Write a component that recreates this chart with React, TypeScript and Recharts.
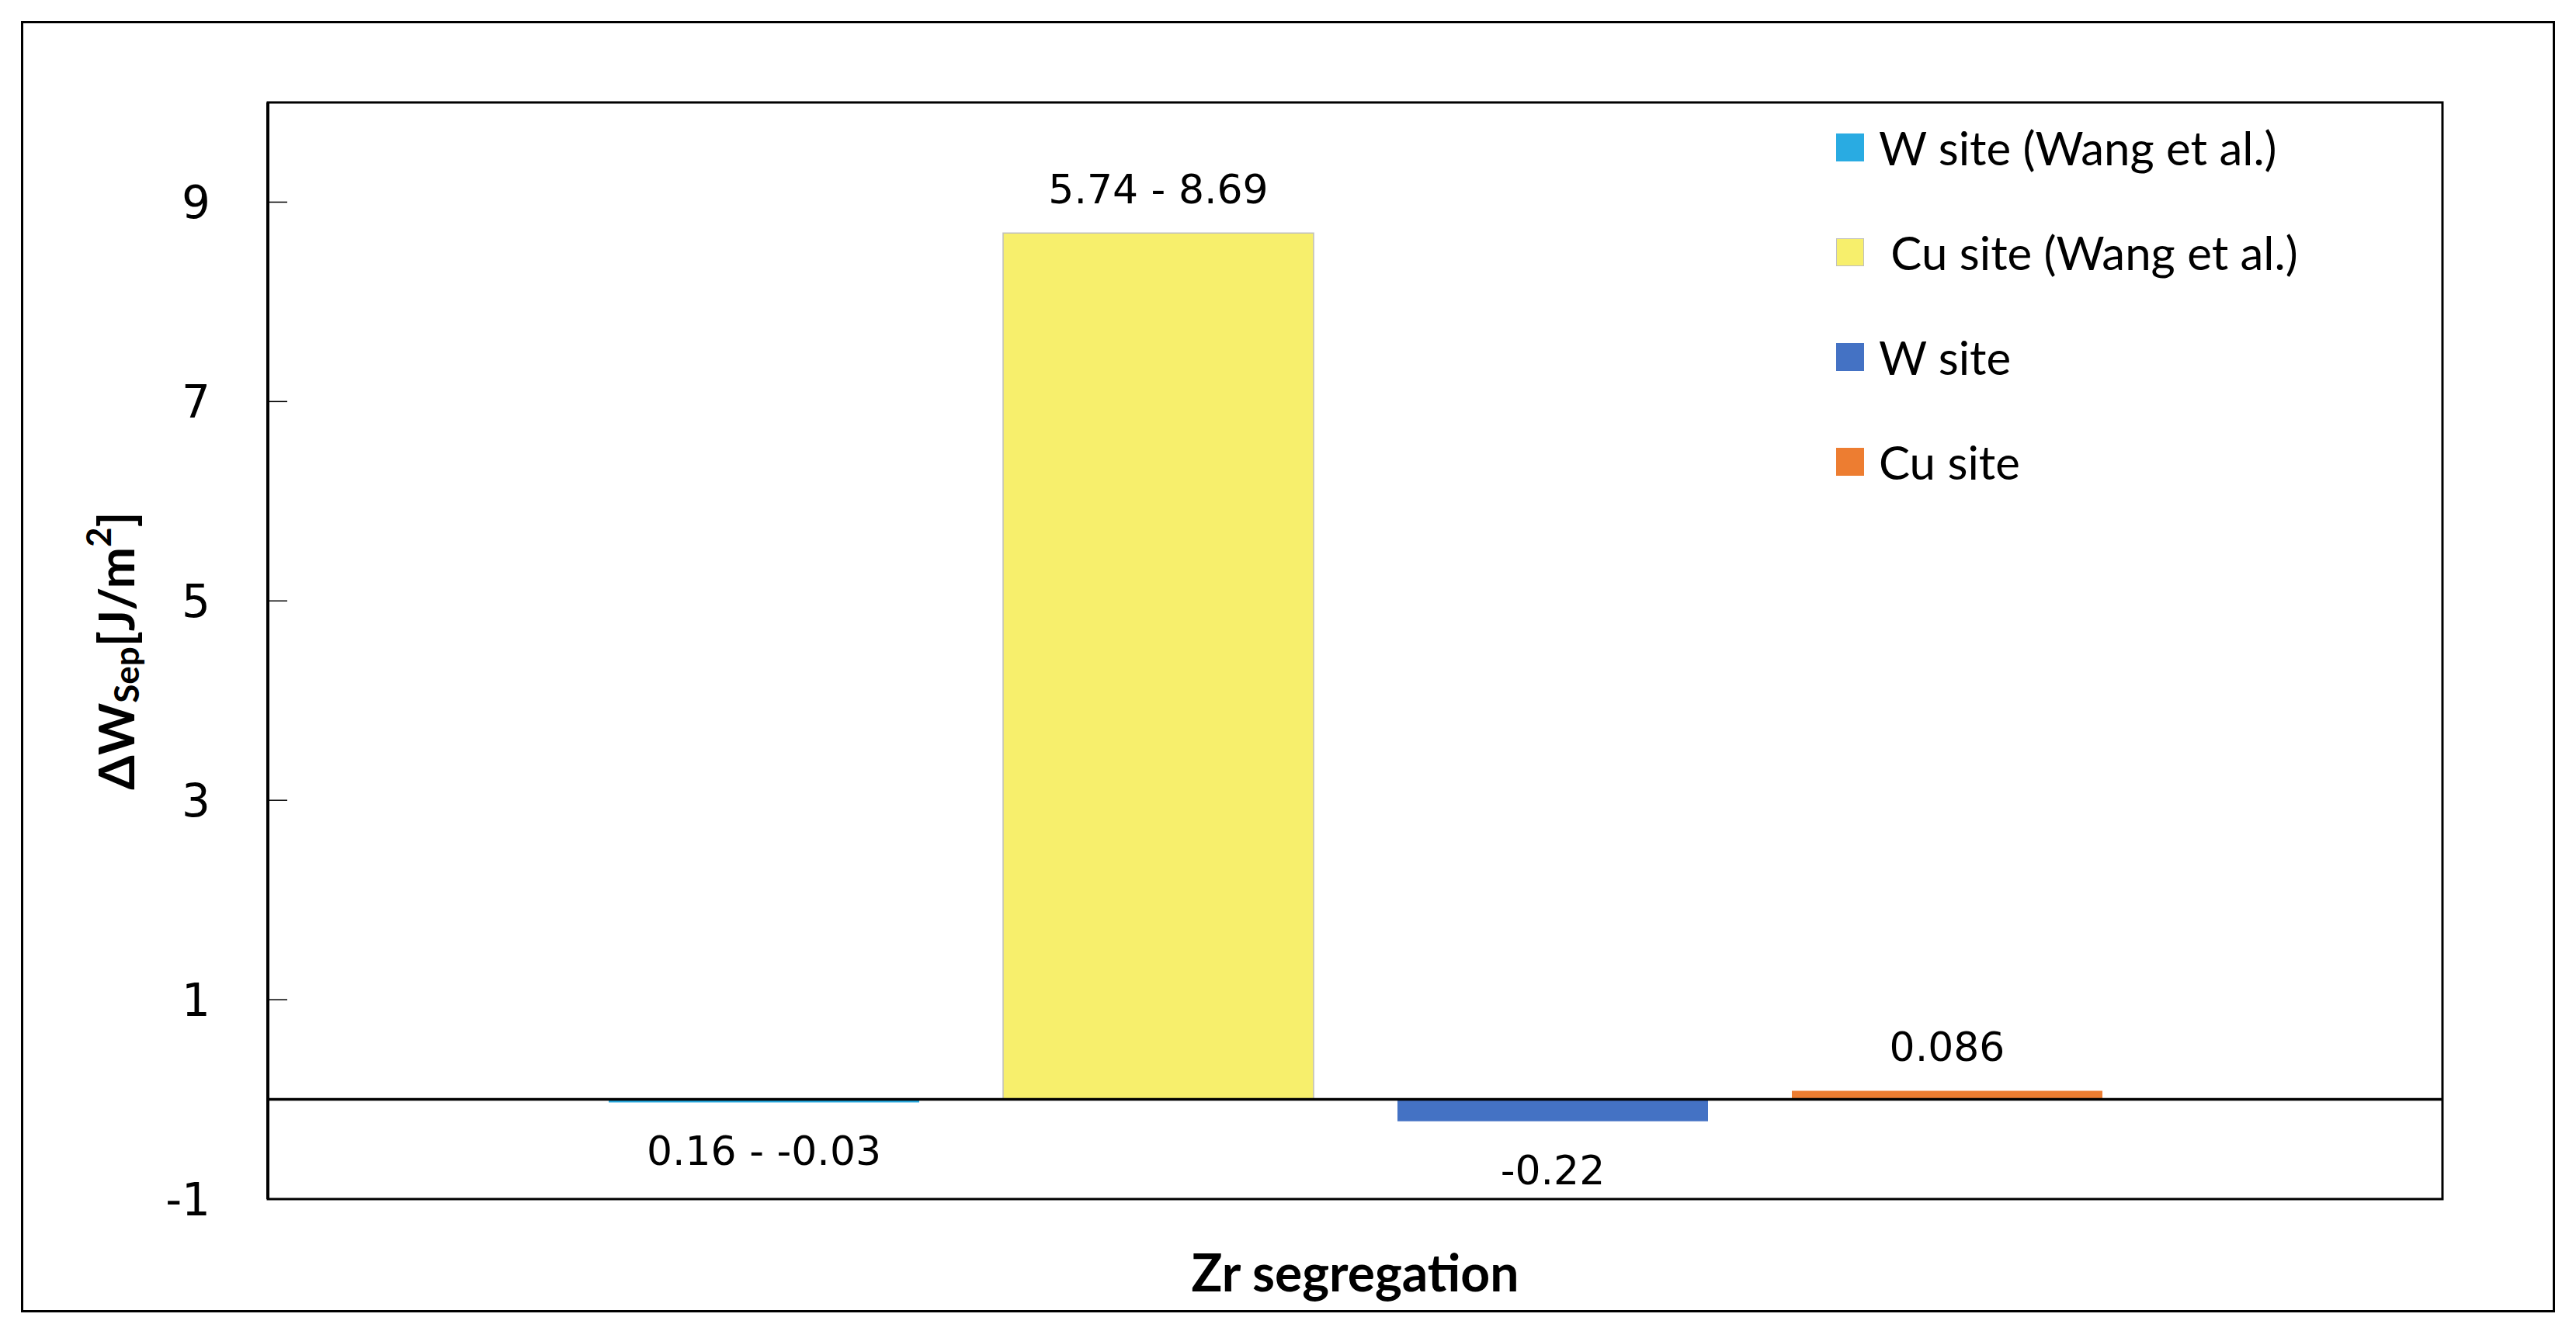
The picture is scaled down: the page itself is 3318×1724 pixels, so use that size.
import React from 'react';
import { BarChart, Bar, XAxis, YAxis, Legend, LabelList, ReferenceLine, ReferenceArea } from 'recharts';

const category = 'Zr segregation';
const seriesKeys = ['wWang', 'cuWang', 'w', 'cu'];
const seriesNames = ['W site (Wang et al.)', ' Cu site (Wang et al.)', 'W site', 'Cu site'];
const seriesValues = [-0.03, 8.69, -0.22, 0.086];
const seriesColors = ['#29ABE2', '#F7EF6C', '#4472C4', '#ED7D31'];
const barLabels = ['0.16 - -0.03', '5.74 - 8.69', '-0.22', '0.086'];
const yTicks = [-1, 1, 3, 5, 7, 9];

const row: Record<string, any> = { name: category };
seriesKeys.forEach((k, i) => {
  row[k] = seriesValues[i];
});
const data = [row];

const tickFont = 'DejaVu Sans, Verdana, sans-serif';
const textFont = 'Lato, Calibri, sans-serif';

const YTick = (props: any) => {
  const { x, y, payload } = props;
  const axisX = x + 74;
  return (
    <g>
      <line x1={axisX} x2={axisX + 25} y1={y} y2={y} stroke="#000" strokeWidth={1.5} />
      <text x={x} y={y} dy="0.36em" textAnchor="end" fontFamily={tickFont} fontSize={58} fill="#000">
        {payload.value}
      </text>
    </g>
  );
};

const YLabel = (props: any) => {
  const { viewBox } = props;
  const cx = viewBox.x + 148;
  const cy = viewBox.y + viewBox.height / 2;
  return (
    <text
      x={cx}
      y={cy}
      transform={`rotate(-90, ${cx}, ${cy})`}
      textAnchor="middle"
      dominantBaseline="central"
      fontFamily={textFont}
      fontWeight="bold"
      fontSize={64}
      fill="#000"
    >
      <tspan>ΔW</tspan>
      <tspan fontSize={44} dy={14}>Sep</tspan>
      <tspan dy={-14}>[J/m</tspan>
      <tspan fontSize={44} dy={-22}>2</tspan>
      <tspan dy={22}>]</tspan>
    </text>
  );
};

const XLabel = (props: any) => {
  const { viewBox } = props;
  return (
    <text
      x={viewBox.x + viewBox.width / 2}
      y={viewBox.y + 95}
      dy="0.36em"
      textAnchor="middle"
      fontFamily={textFont}
      fontWeight="bold"
      fontSize={66}
      fill="#000"
    >
      {category}
    </text>
  );
};

const makeBarLabel = (idx: number) => (props: any) => {
  const { x, y, width, height } = props;
  const top = Math.min(y, y + height);
  const bottom = Math.max(y, y + height);
  const ly = seriesValues[idx] >= 0 ? top - 57 : bottom + 62;
  return (
    <text
      x={x + width / 2}
      y={ly}
      dy="0.36em"
      textAnchor="middle"
      fontFamily={tickFont}
      fontSize={52}
      fill="#000"
    >
      {barLabels[idx]}
    </text>
  );
};

const renderLegend = (props: any) => {
  const items = [...(props.payload || [])].sort(
    (a: any, b: any) => seriesNames.indexOf(a.value) - seriesNames.indexOf(b.value)
  );
  return (
    <div>
      {items.map((entry: any, i: number) => (
        <div key={i} style={{ display: 'flex', alignItems: 'center', height: 135 }}>
          <div
            style={{
              width: 36,
              height: 36,
              background: entry.color,
              boxSizing: 'border-box',
              border: entry.value === seriesNames[1] ? '1px solid #bfbfbf' : 'none',
              marginRight: 19,
            }}
          />
          <span style={{ fontFamily: textFont, fontSize: 60, color: '#000', whiteSpace: 'pre' }}>
            {entry.value}
          </span>
        </div>
      ))}
    </div>
  );
};

export default function App() {
  return (
    <div style={{ position: 'absolute', left: 0, top: 0, width: 3318, height: 1724, background: '#fff' }}>
      <div
        style={{
          position: 'absolute',
          left: 27,
          top: 27,
          width: 3264,
          height: 1664,
          border: '3px solid #000',
          boxSizing: 'border-box',
        }}
      />
      <div style={{ position: 'absolute', left: 0, top: 0 }}>
        <BarChart
          width={3318}
          height={1724}
          data={data}
          margin={{ top: 132, right: 172, bottom: 0, left: 0 }}
          barSize={400}
          barGap={108}
        >
          <XAxis dataKey="name" height={179} tick={false} axisLine={false} tickLine={false} label={<XLabel />} />
          <YAxis
            width={345}
            domain={[-1, 10]}
            ticks={yTicks}
            interval={0}
            allowDataOverflow
            axisLine={{ stroke: '#000', strokeWidth: 4 }}
            tickLine={false}
            tickSize={0}
            tickMargin={74}
            tick={<YTick />}
            label={<YLabel />}
          />
          <Legend
            layout="vertical"
            align="center"
            verticalAlign="middle"
            itemSorter={null as any}
            content={renderLegend}
            wrapperStyle={{ left: 2365, top: 122, width: 'auto', height: 'auto' }}
          />
          {seriesKeys.map((k, i) => (
            <Bar
              key={k}
              dataKey={k}
              name={seriesNames[i]}
              fill={seriesColors[i]}
              stroke={i === 1 ? '#bfbfbf' : 'none'}
              strokeWidth={i === 1 ? 1.5 : 0}
              isAnimationActive={false}
            >
              <LabelList content={makeBarLabel(i)} />
            </Bar>
          ))}
          <ReferenceLine y={0} stroke="#000" strokeWidth={3.5} />
          <ReferenceArea y1={-1} y2={10} fill="none" fillOpacity={0} stroke="#000" strokeWidth={3} />
        </BarChart>
      </div>
    </div>
  );
}
